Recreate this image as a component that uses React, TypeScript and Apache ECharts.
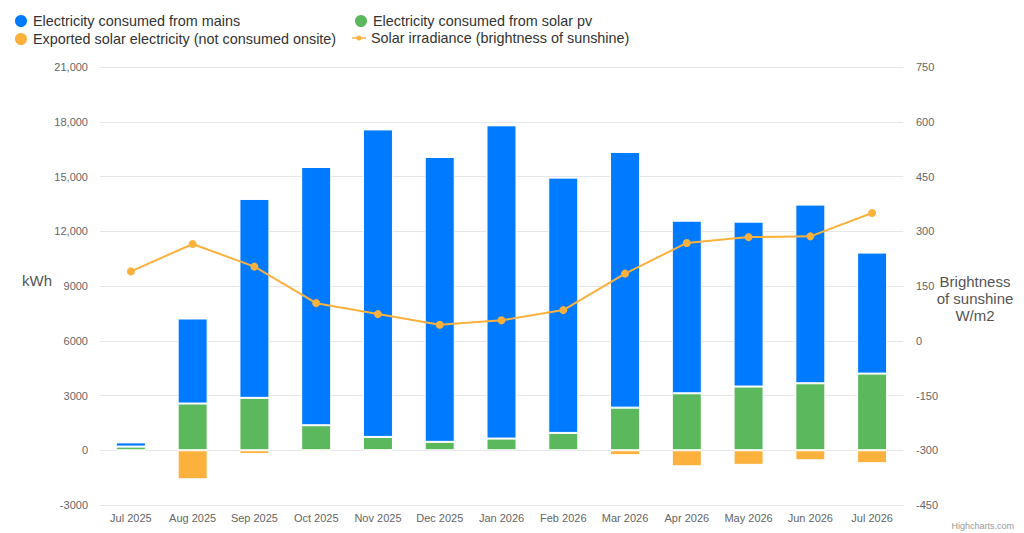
import React, { useEffect, useRef } from "react";
import * as echarts from "echarts";

const categories = ["Jul 2025", "Aug 2025", "Sep 2025", "Oct 2025", "Nov 2025", "Dec 2025", "Jan 2026", "Feb 2026", "Mar 2026", "Apr 2026", "May 2026", "Jun 2026", "Jul 2026"];
const mains = [230, 4660, 10900, 14150, 16850, 15610, 17165, 13990, 14010, 9460, 9035, 9790, 6630];
const solarPv = [200, 2560, 2870, 1370, 730, 460, 640, 950, 2335, 3120, 3490, 3670, 4200];
const exported = [-50, -1590, -210, -80, -10, 0, 0, 0, -270, -880, -800, -550, -710];
const irradiance = [190, 265, 203, 103, 73, 44, 56, 84, 184, 268, 284, 286, 350];

const FONT = "'Liberation Sans', Arial, Helvetica, sans-serif";
const BLUE = "#007bff";
const GREEN = "#5cb85c";
const ORANGE = "#fbb13c";
const LINE_ICON = "path://M0,2.3H14V3.7H0Z M4.5,3A2.5,2.5,0,1,1,9.5,3A2.5,2.5,0,1,1,4.5,3Z";

function fmtLeft(v: number): string {
  if (Math.abs(v) >= 10000) {
    const s = String(Math.abs(v)).replace(/\B(?=(\d{3})+(?!\d))/g, ",");
    return (v < 0 ? "-" : "") + s;
  }
  return String(v);
}

export default function App() {
  const ref = useRef<HTMLDivElement>(null);
  useEffect(() => {
    if (!ref.current) return;
    const chart = echarts.init(ref.current, undefined, { renderer: "svg" });
    const legendText = { fontSize: 14.4, color: "#333", fontFamily: FONT };
    const mkLegend = (name: string, left: number, top: number, icon: string, w = 14, h = 14) => ({
      data: [{ name, icon }],
      left,
      top,
      itemWidth: w,
      itemHeight: h,
      padding: 0,
      textStyle: legendText,
      selectedMode: false,
    });
    chart.setOption({
      animation: false,
      backgroundColor: "#fff",
      textStyle: { fontFamily: FONT },
      legend: [
        mkLegend("Electricity consumed from mains", 13, 13, "circle"),
        mkLegend("Exported solar electricity (not consumed onsite)", 13, 31, "circle"),
        mkLegend("Electricity consumed from solar pv", 353, 13, "circle"),
        mkLegend("Solar irradiance (brightness of sunshine)", 352, 31, LINE_ICON, 14, 6),
      ],
      grid: { left: 100, right: 121, top: 67, bottom: 28, containLabel: false },
      xAxis: {
        type: "category",
        data: categories,
        axisLine: { show: false },
        axisTick: { show: false },
        axisLabel: { color: "#666", fontSize: 11, margin: 7, interval: 0, fontFamily: FONT },
      },
      yAxis: [
        {
          type: "value",
          min: -3000,
          max: 21000,
          interval: 3000,
          axisLine: { show: false },
          axisTick: { show: false },
          axisLabel: { color: "#666", fontSize: 11, margin: 12, formatter: fmtLeft, fontFamily: FONT },
          splitLine: { lineStyle: { color: "#e6e6e6", width: 1 } },
        },
        {
          type: "value",
          min: -450,
          max: 750,
          interval: 150,
          position: "right",
          axisLine: { show: false },
          axisTick: { show: false },
          axisLabel: { color: "#666", fontSize: 11, margin: 13, fontFamily: FONT },
          splitLine: { show: false },
        },
      ],
      series: [
        {
          name: "Electricity consumed from solar pv",
          type: "bar",
          stack: "kwh",
          data: solarPv,
          barWidth: 30,
          itemStyle: { color: GREEN, borderColor: "#fff", borderWidth: 1 },
        },
        {
          name: "Electricity consumed from mains",
          type: "bar",
          stack: "kwh",
          data: mains,
          barWidth: 30,
          itemStyle: { color: BLUE, borderColor: "#fff", borderWidth: 1 },
        },
        {
          name: "Exported solar electricity (not consumed onsite)",
          type: "bar",
          stack: "kwh",
          data: exported,
          barWidth: 30,
          itemStyle: { color: ORANGE, borderColor: "#fff", borderWidth: 1 },
        },
        {
          name: "Solar irradiance (brightness of sunshine)",
          type: "line",
          yAxisIndex: 1,
          data: irradiance,
          symbol: "circle",
          symbolSize: 8,
          lineStyle: { color: ORANGE, width: 2 },
          itemStyle: { color: ORANGE },
          z: 5,
        },
      ],
      graphic: [
        {
          type: "text",
          left: 22,
          top: 273,
          style: { text: "kWh", fontSize: 15, fill: "#555", fontFamily: FONT },
        },
        {
          type: "text",
          x: 975,
          y: 298,
          style: {
            text: "Brightness\nof sunshine\nW/m2",
            fontSize: 15,
            lineHeight: 17,
            fill: "#555",
            align: "center",
            verticalAlign: "middle",
            fontFamily: FONT,
          },
        },
        {
          type: "text",
          right: 10,
          bottom: 3,
          style: { text: "Highcharts.com", fontSize: 9, fill: "#999", fontFamily: FONT },
        },
      ],
    });
    return () => chart.dispose();
  }, []);
  return <div ref={ref} style={{ position: "fixed", left: 0, top: 0, width: 1024, height: 533 }} />;
}
